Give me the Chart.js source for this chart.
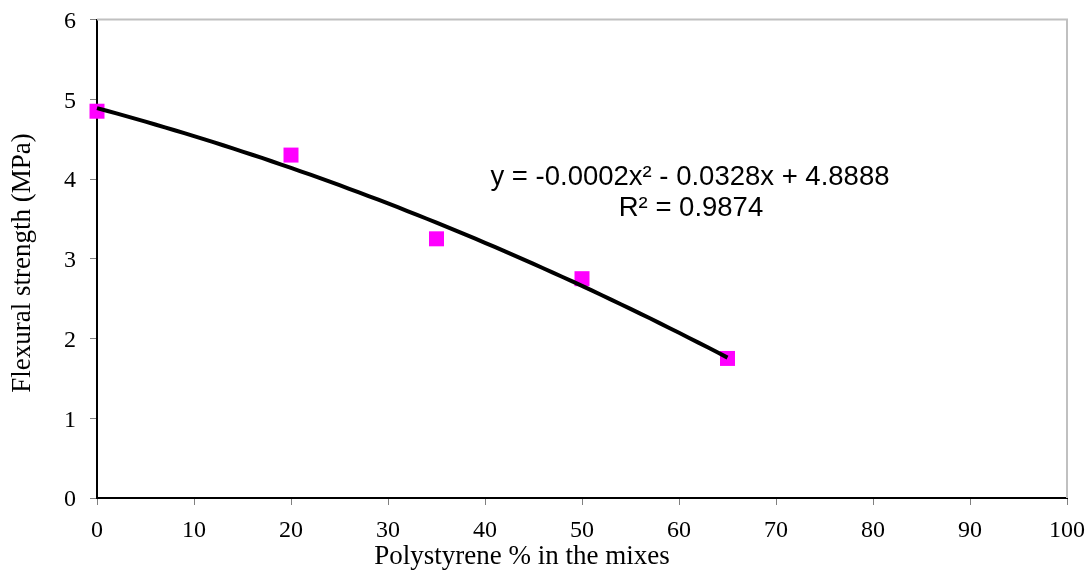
<!DOCTYPE html>
<html>
<head>
<meta charset="utf-8">
<script src="https://cdn.jsdelivr.net/npm/chart.js@4.4.1/dist/chart.umd.min.js"></script>
<style>
  html, body { margin: 0; padding: 0; background: #ffffff; }
  #wrap { width: 1087px; height: 570px; }
</style>
</head>
<body>
<div id="wrap"><canvas id="c" width="1087" height="570"></canvas></div>
<script>
// ---- data ----
const polystyrenePct = [0, 20, 35, 50, 65];
const flexuralStrength = [4.85, 4.3, 3.25, 2.75, 1.75];
const xTickValues = [0, 10, 20, 30, 40, 50, 60, 70, 80, 90, 100];
const yTickValues = [0, 1, 2, 3, 4, 5, 6];
const equationLines = ['y = -0.0002x\u00B2 - 0.0328x + 4.8888', 'R\u00B2 = 0.9874'];
const xTitle = 'Polystyrene % in the mixes';
const yTitle = 'Flexural strength (MPa)';

// ---- polynomial (order 2) least-squares trendline from the data ----
function quadFit(xs, ys) {
  let n = xs.length, s = [0,0,0,0,0], t = [0,0,0];
  for (let i = 0; i < n; i++) {
    let p = 1;
    for (let k = 0; k < 5; k++) { s[k] += p; if (k < 3) t[k] += p * ys[i]; p *= xs[i]; }
  }
  const M = [[s[0], s[1], s[2], t[0]], [s[1], s[2], s[3], t[1]], [s[2], s[3], s[4], t[2]]];
  for (let i = 0; i < 3; i++) {
    for (let j = i + 1; j < 3; j++) {
      const f = M[j][i] / M[i][i];
      for (let k = i; k < 4; k++) M[j][k] -= f * M[i][k];
    }
  }
  const c = [0,0,0];
  for (let i = 2; i >= 0; i--) {
    let v = M[i][3];
    for (let k = i + 1; k < 3; k++) v -= M[i][k] * c[k];
    c[i] = v / M[i][i];
  }
  return c; // c0 + c1 x + c2 x^2
}
const coef = quadFit(polystyrenePct, flexuralStrength);
const xMin = Math.min(...polystyrenePct), xMax = Math.max(...polystyrenePct);
const trend = [];
for (let i = 0; i <= 65; i++) {
  const x = xMin + (xMax - xMin) * i / 65;
  trend.push({ x: x, y: coef[0] + coef[1] * x + coef[2] * x * x });
}

const SERIF = '"Liberation Serif", "Times New Roman", serif';
const SANS = '"Liberation Sans", Arial, sans-serif';

const frame = {
  id: 'frame',
  afterDraw(chart) {
    const { ctx, chartArea: a, scales } = chart;
    ctx.save();
    // light grey plot-area border (top and right)
    ctx.strokeStyle = '#c0c0c0';
    ctx.lineWidth = 2;
    ctx.beginPath();
    ctx.moveTo(a.left, a.top);
    ctx.lineTo(a.right, a.top);
    ctx.lineTo(a.right, a.bottom);
    ctx.stroke();
    // trendline equation
    ctx.fillStyle = '#000000';
    ctx.font = '27.5px ' + SANS;
    ctx.textAlign = 'center';
    ctx.textBaseline = 'middle';
    const cx = scales.x.getPixelForValue(61.13);
    ctx.fillText(equationLines[0], cx, scales.y.getPixelForValue(4.02));
    ctx.fillText(equationLines[1], cx + 1, scales.y.getPixelForValue(3.635));
    // axis titles
    ctx.font = '27px ' + SERIF;
    ctx.fillText(xTitle, 522, 557);
    ctx.translate(23, 263);
    ctx.rotate(-Math.PI / 2);
    ctx.fillText(yTitle, 0, 0);
    ctx.restore();
  }
};

new Chart(document.getElementById('c'), {
  type: 'scatter',
  data: {
    datasets: [
      {
        label: 'trend',
        data: trend,
        showLine: true,
        borderColor: '#000000',
        borderWidth: 4,
        pointRadius: 0,
        tension: 0,
        clip: false,
        order: 1
      },
      {
        label: 'Flexural strength',
        data: polystyrenePct.map((x, i) => ({ x: x, y: flexuralStrength[i] })),
        pointStyle: 'rect',
        pointRadius: 10.6,
        pointBackgroundColor: '#ff00ff',
        pointBorderColor: '#ff00ff',
        pointBorderWidth: 0,
        showLine: false,
        clip: false,
        order: 2
      }
    ]
  },
  options: {
    responsive: false,
    animation: false,
    devicePixelRatio: 1,
    layout: { padding: { left: 0, right: 20, top: 19.5, bottom: 0 } },
    plugins: { legend: { display: false }, tooltip: { enabled: false } },
    scales: {
      x: {
        type: 'linear',
        min: 0, max: 100,
        afterBuildTicks(s) { s.ticks = xTickValues.map(v => ({ value: v })); },
        afterFit(s) { s.height = 72; s.paddingLeft = 0; s.paddingRight = 0; },
        grid: { display: true, drawOnChartArea: false, tickLength: 7, tickColor: '#808080', tickWidth: 1 },
        border: { display: true, color: '#000000', width: 2 },
        ticks: { color: '#000000', padding: 11, maxRotation: 0, autoSkip: false,
          font: { family: SERIF, size: 24 } },
        title: { display: false }
      },
      y: {
        type: 'linear',
        min: 0, max: 6,
        afterBuildTicks(s) { s.ticks = yTickValues.map(v => ({ value: v })); },
        afterFit(s) { s.width = 97; s.paddingTop = 0; s.paddingBottom = 0; },
        grid: { display: true, drawOnChartArea: false, tickLength: 7, tickColor: '#808080', tickWidth: 1 },
        border: { display: true, color: '#000000', width: 2 },
        ticks: { color: '#000000', padding: 14, labelOffset: 2, autoSkip: false,
          font: { family: SERIF, size: 24 } },
        title: { display: false }
      }
    }
  },
  plugins: [frame]
});
</script>
</body>
</html>
